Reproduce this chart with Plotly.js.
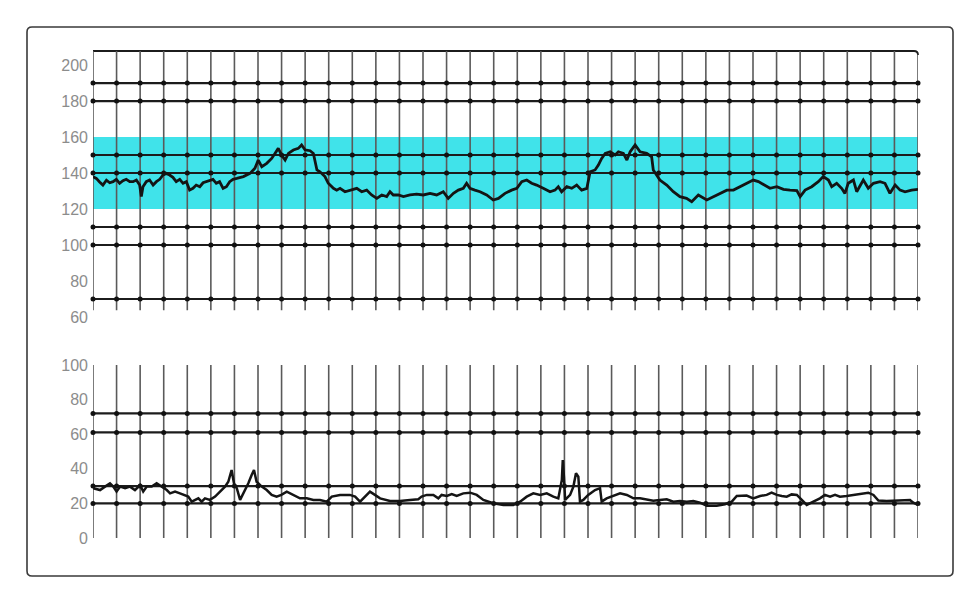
<!DOCTYPE html>
<html>
<head>
<meta charset="utf-8">
<script src="https://cdn.plot.ly/plotly-3.0.1.min.js"></script>
<style>html,body{margin:0;padding:0;background:#fff}#chart{width:980px;height:593px}</style>
</head>
<body>
<div id="chart"></div>
<script>
// ---- Data ----
// Fetal heart rate trace (bpm); x in grid units (one unit per vertical grid line)
const fhrX = [0.00,0.14,0.28,0.42,0.57,0.71,0.85,0.99,1.13,1.27,1.41,1.56,1.70,1.84,1.98,2.05,2.12,2.26,2.40,2.55,2.69,2.83,2.97,3.11,3.25,3.39,3.53,3.68,3.82,3.96,4.10,4.24,4.38,4.53,4.67,4.81,4.95,5.09,5.23,5.37,5.52,5.66,5.80,5.94,6.10,6.38,6.66,6.87,7.01,7.16,7.37,7.58,7.72,7.86,8.00,8.15,8.29,8.50,8.71,8.85,9.00,9.21,9.35,9.50,9.63,9.84,9.98,10.20,10.34,10.48,10.69,10.90,11.19,11.40,11.61,11.82,12.04,12.25,12.46,12.60,12.74,12.95,13.17,13.45,13.73,14.01,14.30,14.58,14.86,15.07,15.29,15.50,15.71,15.85,15.99,16.20,16.42,16.70,16.98,17.20,17.48,17.76,17.98,18.19,18.40,18.61,18.82,19.10,19.39,19.60,19.74,19.88,20.10,20.31,20.52,20.73,20.95,21.09,21.30,21.44,21.58,21.73,21.94,22.15,22.29,22.50,22.65,22.79,23.00,23.21,23.49,23.70,23.77,23.91,24.05,24.34,24.62,24.90,25.18,25.40,25.68,26.04,26.32,26.60,26.89,27.17,27.45,27.73,28.01,28.23,28.51,28.72,29.01,29.29,29.57,29.86,30.00,30.21,30.49,30.77,30.98,31.20,31.34,31.55,31.76,31.90,32.04,32.26,32.40,32.54,32.68,32.89,33.11,33.39,33.60,33.81,34.03,34.24,34.45,34.73,35.00];
const fhrY = [138,137,135,133.3,136,134.6,135.2,136.5,134.3,135.7,136.5,135.2,135.2,136.1,133.3,126.9,132.4,135.2,136.1,133.3,135.2,136.5,138.9,139.8,138.9,137.6,135.2,136.5,134.3,135.2,130.5,131.5,133.3,132.4,134.6,135.2,135.7,136.5,134.3,135.2,131.5,132.4,135.2,136.5,137,138,139.8,142.6,147.2,143.5,145.4,148.1,150.9,153.7,150,147.2,150.9,152.8,153.7,155.6,152.8,152.4,150.9,141.7,140.7,138,134.3,131.5,130.5,131.5,129.6,130.5,131.5,129.6,130.5,127.8,125.9,127.8,126.9,129.6,127.8,127.8,126.9,127.8,128.3,127.8,128.7,127.8,129.6,125.9,128.7,130.5,131.5,134.3,131.5,130.5,129.6,127.8,125,125.9,128.7,130.5,131.5,135.2,136.1,134.3,133.3,131.5,129.6,130.5,132.4,129.6,132.4,131.5,133.3,130.5,131.5,140.7,141.7,144.4,148.1,150.9,151.8,150,151.8,150.9,147.2,151.8,155.6,151.8,150.9,149,141.7,138.9,136.1,133.3,129.6,126.9,125.9,124.1,127.8,125,126.9,128.7,130.5,130.5,132.4,134.3,136.1,135.2,133.3,131.5,132.4,130.9,130.5,130.2,126.9,130.5,132.4,135.2,138,136.1,132.4,134.3,131.5,128.7,134.3,136.1,129.6,133.3,136.1,131.5,134.3,135.2,134.3,128.7,133.3,130.5,129.6,130.5,130.9];

// Uterine contraction trace
const ucX = [0.01,0.30,0.51,0.72,0.86,1.00,1.15,1.36,1.57,1.78,2.00,2.13,2.28,2.49,2.70,2.91,3.13,3.27,3.48,3.69,3.90,4.04,4.19,4.33,4.47,4.61,4.75,4.96,5.18,5.39,5.60,5.74,5.88,5.98,6.10,6.24,6.38,6.59,6.73,6.83,6.94,7.16,7.37,7.58,7.79,7.99,8.22,8.50,8.78,9.07,9.35,9.63,9.92,10.13,10.48,10.90,11.12,11.33,11.54,11.75,11.96,12.18,12.60,13.02,13.45,13.80,13.94,14.16,14.44,14.65,14.79,15.01,15.22,15.43,15.71,16.00,16.28,16.56,16.98,17.41,17.83,18.12,18.40,18.68,18.97,19.25,19.53,19.74,19.89,19.93,19.98,20.03,20.24,20.38,20.49,20.59,20.66,20.80,21.01,21.30,21.51,21.58,21.79,22.08,22.36,22.65,22.93,23.21,23.49,23.77,24.05,24.34,24.62,24.90,25.19,25.47,25.75,26.04,26.46,26.81,27.10,27.31,27.73,28.01,28.30,28.58,28.79,29.01,29.22,29.43,29.64,29.86,30.07,30.28,30.56,30.84,31.05,31.27,31.48,31.69,31.97,32.26,32.54,32.89,33.11,33.32,33.67,34.10,34.38,34.66,34.80,35.00];
const ucY = [28.8,27.7,29.7,31.6,29.7,26.8,29.7,28.8,29.7,27.7,30.6,26.8,29.7,29.7,31.6,29.7,27.7,25.8,26.8,25.8,24.9,23.9,21.0,22.0,22.9,21.0,22.9,22.0,23.9,26.8,29.7,32.5,39.3,31.6,28.8,22.0,25.8,31.6,36.4,39.3,32.5,29.7,27.7,24.9,23.9,24.9,26.8,24.9,22.9,22.9,22.0,22.0,21.0,23.9,24.9,24.9,23.9,21.0,23.9,26.8,24.9,22.9,21.4,21.4,22.0,22.4,23.9,24.9,24.9,22.9,24.9,24.3,25.4,24.3,25.8,26.2,24.9,22.0,20.1,19.1,19.1,21.0,23.9,25.8,24.9,25.8,23.9,22.9,33.5,45.1,35.4,22.0,24.9,29.7,37.4,35.4,21.0,22.0,24.9,27.7,28.8,21.0,22.9,24.3,25.8,24.9,22.9,22.9,22.4,21.6,22.0,22.4,21.0,21.4,21.0,21.4,20.4,18.7,18.7,19.5,21.0,24.3,24.5,22.9,24.3,24.9,26.2,24.9,24.3,23.9,25.2,24.9,22.0,19.1,21.0,22.9,24.9,23.9,24.9,23.9,24.3,24.9,25.4,26.2,24.9,21.6,21.4,21.6,22.0,22.0,20.4,19.1];

// Axis tick labels and reference lines
const fhrTicks = [60, 80, 100, 120, 140, 160, 180, 200];
const ucTicks = [0, 20, 40, 60, 80, 100];
const fhrGridLines = [190, 180, 150, 140, 110, 100, 70];
const ucGridLines = [72, 61, 30, 20];
const fhrBand = [120, 160];
const gridCols = Array.from({length: 36}, (_, i) => i); // 0..35

// ---- Styles ----
const W = 980, H = 593;
const FHR_TOP = 207.8, FHR_BOT = 60, FHR_VBOT = 63.8;
const hCol = '#1c1c1c', vCol = '#5a5a5a', traceCol = '#141414';
const px = v => v / W, py = v => 1 - v / H;

// rounded rectangle path in paper coordinates (pixel inputs)
function roundRect(x0, y0, x1, y1, r) {
  return 'M' + px(x0 + r) + ',' + py(y0) +
    ' L' + px(x1 - r) + ',' + py(y0) + ' Q' + px(x1) + ',' + py(y0) + ' ' + px(x1) + ',' + py(y0 + r) +
    ' L' + px(x1) + ',' + py(y1 - r) + ' Q' + px(x1) + ',' + py(y1) + ' ' + px(x1 - r) + ',' + py(y1) +
    ' L' + px(x0 + r) + ',' + py(y1) + ' Q' + px(x0) + ',' + py(y1) + ' ' + px(x0) + ',' + py(y1 - r) +
    ' L' + px(x0) + ',' + py(y0 + r) + ' Q' + px(x0) + ',' + py(y0) + ' ' + px(x0 + r) + ',' + py(y0) + ' Z';
}

const shapes = [];
// outer frame
shapes.push({type:'path', xref:'paper', yref:'paper', path: roundRect(27, 27, 953, 576, 5),
  line:{color:'#3a3a3a', width:1.6}, fillcolor:'rgba(0,0,0,0)', layer:'below'});
// cyan band
shapes.push({type:'rect', xref:'x', yref:'y', x0:0, x1:35, y0:fhrBand[0], y1:fhrBand[1],
  line:{width:0}, fillcolor:'#40e3ea', layer:'below'});
// vertical grid lines
gridCols.forEach(c => {
  const top = (c === 35) ? FHR_TOP - 2 : FHR_TOP;
  shapes.push({type:'line', xref:'x', yref:'y', x0:c, x1:c, y0:FHR_VBOT, y1:top, line:{color:vCol, width:1.6}, layer:'below'});
  shapes.push({type:'line', xref:'x2', yref:'y2', x0:c, x1:c, y0:0, y1:100, line:{color:vCol, width:1.6}, layer:'below'});
});
// top border with rounded top-right corner
shapes.push({type:'path', xref:'paper', yref:'paper',
  path: 'M' + px(93) + ',' + py(51) + ' L' + px(914) + ',' + py(51) + ' Q' + px(918) + ',' + py(51) + ' ' + px(918) + ',' + py(55),
  line:{color:hCol, width:1.8}, layer:'below'});
// horizontal grid lines
fhrGridLines.forEach(v => shapes.push({type:'line', xref:'x', yref:'y', x0:0, x1:35, y0:v, y1:v, line:{color:hCol, width:2.2}, layer:'below'}));
ucGridLines.forEach(v => shapes.push({type:'line', xref:'x2', yref:'y2', x0:0, x1:35, y0:v, y1:v, line:{color:hCol, width:2.2}, layer:'below'}));

// intersection dots generated from grid arrays
const dotTop = {x:[], y:[]}, dotBot = {x:[], y:[]};
fhrGridLines.forEach(v => gridCols.forEach(c => { dotTop.x.push(c); dotTop.y.push(v); }));
ucGridLines.forEach(v => gridCols.forEach(c => { dotBot.x.push(c); dotBot.y.push(v); }));

const traces = [
  {x:dotTop.x, y:dotTop.y, xaxis:'x', yaxis:'y', mode:'markers', marker:{size:5, color:'#111'}, hoverinfo:'skip', cliponaxis:false},
  {x:dotBot.x, y:dotBot.y, xaxis:'x2', yaxis:'y2', mode:'markers', marker:{size:5, color:'#111'}, hoverinfo:'skip', cliponaxis:false},
  {x:fhrX, y:fhrY, xaxis:'x', yaxis:'y', mode:'lines', line:{color:traceCol, width:2.8, shape:'linear'}},
  {x:ucX, y:ucY, xaxis:'x2', yaxis:'y2', mode:'lines', line:{color:traceCol, width:2.5, shape:'linear'}}
];

const xDom = [93/W, 918/W];
const tickFont = {family:'Liberation Sans, Arial, sans-serif', size:16, color:'#8c8c8c'};
const baseX = {domain:xDom, range:[0,35], showgrid:false, zeroline:false, showticklabels:false, showline:false, ticks:'', fixedrange:true};
const baseY = {showgrid:false, zeroline:false, showline:false, ticks:'', tickfont:tickFont, ticklabelstandoff:4, fixedrange:true};

const layout = {
  width:W, height:H, margin:{l:0, r:0, t:0, b:0},
  paper_bgcolor:'#fff', plot_bgcolor:'rgba(0,0,0,0)', showlegend:false,
  xaxis: Object.assign({}, baseX, {anchor:'y'}),
  xaxis2: Object.assign({}, baseX, {anchor:'y2'}),
  yaxis: Object.assign({}, baseY, {domain:[1-317/H, 1-51/H], range:[FHR_BOT, FHR_TOP], tickmode:'array', tickvals:fhrTicks, ticktext:fhrTicks.map(String), anchor:'x'}),
  yaxis2: Object.assign({}, baseY, {domain:[1-538/H, 1-365/H], range:[-0.01, 100.01], tickmode:'array', tickvals:ucTicks, ticktext:ucTicks.map(String), anchor:'x2'}),
  shapes: shapes
};

Plotly.newPlot('chart', traces, layout, {displayModeBar:false, staticPlot:true});
</script>
</body>
</html>
